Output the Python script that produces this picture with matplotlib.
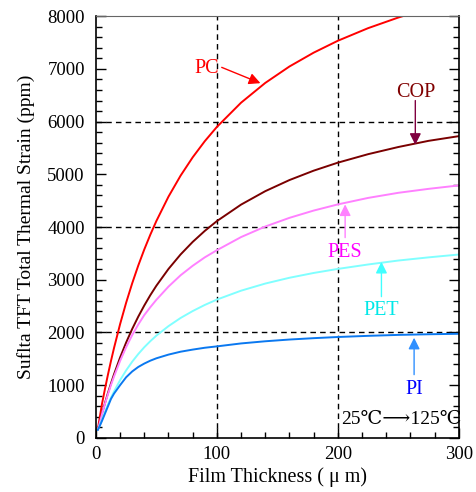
import matplotlib.pyplot as plt
from matplotlib.ticker import MultipleLocator

plt.rcParams['font.family'] = ['Liberation Serif', 'DejaVu Serif', 'DejaVu Sans']

# =======================
# data
# =======================
thickness = [1.5, 2.5, 5, 7.5, 10, 12.5, 15, 20, 25, 30, 35, 40, 45, 50, 60,
             70, 80, 90, 100, 120, 140, 160, 180, 200, 225, 250, 275, 300]

pc = [150, 290, 638, 929, 1203, 1462, 1706, 2157, 2564, 2932, 3268, 3575,
      3856, 4115, 4577, 4975, 5323, 5629, 5900, 6360, 6735, 7047, 7309, 7535,
      7774, 7976, 8150, 8301]
cop = [150, 230, 454, 659, 853, 1035, 1207, 1524, 1809, 2066, 2299, 2512,
       2708, 2887, 3205, 3480, 3718, 3927, 4113, 4426, 4681, 4892, 5070, 5222,
       5383, 5519, 5636, 5725]
pes = [150, 225, 445, 645, 830, 1005, 1165, 1460, 1720, 1950, 2150, 2330,
       2480, 2620, 2870, 3085, 3265, 3425, 3561, 3810, 4010, 4175, 4313, 4430,
       4553, 4650, 4725, 4790]
pet = [150, 195, 345, 495, 635, 765, 880, 1095, 1280, 1445, 1590, 1720,
       1835, 1940, 2120, 2275, 2406, 2522, 2624, 2793, 2928, 3038, 3129, 3206,
       3290, 3365, 3425, 3479]
pi = [150, 190, 320, 460, 600, 740, 840, 1000, 1150, 1260, 1345, 1410,
      1465, 1510, 1580, 1635, 1675, 1710, 1736, 1792, 1833, 1866, 1892, 1914,
      1936, 1954, 1966, 1975]

series = [
    ("PC", pc, "#ff0000"),
    ("COP", cop, "#7a0000"),
    ("PES", pes, "#ff80ff"),
    ("PET", pet, "#80ffff"),
    ("PI", pi, "#0a78f0"),
]

# name, text centre, arrow start, arrow tip, text colour, arrow colour
labels = [
    ("PC", (92, 7000), (104, 7030), (136, 6730), "#ff0000", "#ff0000"),
    ("COP", (264, 6560), (264, 6400), (264, 5560), "#800000", "#800040"),
    ("PES", (206, 3520), (206, 3800), (206, 4430), "#ff00ff", "#ff80ff"),
    ("PET", (236, 2410), (236, 2680), (236, 3340), "#00e8e8", "#40ffff"),
    ("PI", (263, 925), (263, 1200), (263, 1900), "#0000ff", "#3090ff"),
]

fig, ax = plt.subplots(figsize=(4.77, 4.92), dpi=100)
fig.subplots_adjust(left=0.201, right=0.962, top=0.967, bottom=0.11)

for name, vals, col in series:
    ax.plot(thickness, vals, color=col, lw=1.4, solid_capstyle='round')

for xv in [100, 200]:
    ax.axvline(xv, color='black', lw=1, ls=(0, (4, 3)), zorder=1)
for yv in [2000, 4000, 6000]:
    ax.axhline(yv, color='black', lw=1, ls=(0, (4, 3)), zorder=1)

# annotations
for name, txt_xy, start, tip, tcol, acol in labels:
    ax.annotate("", xy=tip, xytext=start,
                arrowprops=dict(arrowstyle='-|>', color=acol, lw=1,
                                mutation_scale=17, shrinkA=0, shrinkB=0))
    ax.text(txt_xy[0], txt_xy[1], name, color=tcol, fontsize=14.5,
            ha='center', va='center')

ax.text(203, 340, "25℃⟶125℃", fontsize=14, ha='left', va='center')

ax.set_xlim(0, 300)
ax.set_ylim(0, 8000)
ax.xaxis.set_major_locator(MultipleLocator(100))
ax.xaxis.set_minor_locator(MultipleLocator(20))
ax.yaxis.set_major_locator(MultipleLocator(1000))
ax.yaxis.set_minor_locator(MultipleLocator(200))
ax.tick_params(which='both', direction='in', right=True, top=False,
               labelsize=13.5, color='black')
ax.tick_params(which='major', length=7, width=1)
ax.tick_params(which='minor', length=4, width=1)
ax.tick_params(axis='x', which='major', pad=6)
ax.tick_params(axis='y', which='major', pad=8)

ax.set_xlabel("Film Thickness ( μ m)", fontsize=14.5, labelpad=3)
ax.set_ylabel("Suflta TFT Total Thermal Strain (ppm)", fontsize=14, labelpad=9)

ax.spines['top'].set_color('#666666')
for s in ['left', 'bottom', 'right']:
    ax.spines[s].set_linewidth(1.2)

plt.savefig('out.png', dpi=100)
plt.close()
